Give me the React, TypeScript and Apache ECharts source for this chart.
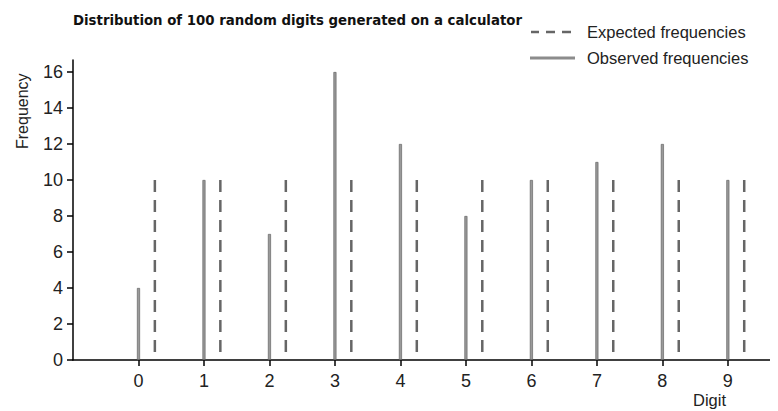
import React, { useEffect, useRef } from "react";
import * as echarts from "echarts";

const digits = [0, 1, 2, 3, 4, 5, 6, 7, 8, 9];
const observed = [4, 10, 7, 16, 12, 8, 10, 11, 12, 10];
const expected = [10, 10, 10, 10, 10, 10, 10, 10, 10, 10];
const yTicks = [0, 2, 4, 6, 8, 10, 12, 14, 16];
const xTicks = [0, 1, 2, 3, 4, 5, 6, 7, 8, 9];
const expectedOffset = 0.25;

const FONT = "'Liberation Sans', Arial, sans-serif";

export default function App() {
  const ref = useRef<HTMLDivElement>(null);
  useEffect(() => {
    if (!ref.current) return;
    const chart = echarts.init(ref.current, undefined, { renderer: "svg" });
    chart.setOption({
      animation: false,
      backgroundColor: "#fff",
      title: {
        text: "Distribution of 100 random digits generated on a calculator",
        left: 65,
        top: 4,
        padding: 0,
        textStyle: {
          fontFamily: "'DejaVu Sans Condensed', sans-serif",
          fontWeight: "bold",
          fontSize: 14.8,
          color: "#111",
        },
      },
      grid: { left: 65, right: 3, top: 52, bottom: 51, containLabel: false },
      xAxis: {
        type: "value",
        min: -1,
        max: 9.72,
        axisLine: { show: true, onZero: false, lineStyle: { color: "#000", width: 1.5 } },
        axisTick: { show: true, length: 6, customValues: xTicks, lineStyle: { color: "#000", width: 1.5 } },
        axisLabel: { customValues: xTicks, fontFamily: FONT, fontSize: 18, color: "#222", margin: 12 },
        splitLine: { show: false },
      },
      yAxis: {
        type: "value",
        min: 0,
        max: 16.67,
        axisLine: { show: true, onZero: false, lineStyle: { color: "#000", width: 1.5 } },
        axisTick: { show: true, length: 6, customValues: yTicks, lineStyle: { color: "#000", width: 1.5 } },
        axisLabel: { customValues: yTicks, fontFamily: FONT, fontSize: 18, color: "#222", margin: 10 },
        splitLine: { show: false },
      },
      series: [
        {
          name: "Observed frequencies",
          type: "bar",
          barWidth: 3,
          data: digits.map((d, i) => [d, observed[i]]),
          itemStyle: { color: "#9a9a9a", borderColor: "#555", borderWidth: 0.6 },
          z: 3,
        },
        {
          name: "Expected frequencies",
          type: "custom",
          data: digits.map((d, i) => [d + expectedOffset, expected[i]]),
          renderItem: (params: any, api: any) => {
            const top = api.coord([api.value(0), api.value(1)]);
            const bottom = api.coord([api.value(0), 0]);
            return {
              type: "line",
              shape: { x1: top[0], y1: top[1], x2: bottom[0], y2: bottom[1] },
              style: { stroke: "#666", lineWidth: 2.5, lineDash: [12, 8] },
            };
          },
          z: 2,
        },
      ],
      graphic: [
        {
          type: "text",
          x: 6,
          y: 141,
          rotation: Math.PI / 2,
          style: { text: "Frequency", font: `16px ${FONT}`, fill: "#222", textVerticalAlign: "top" },
        },
        {
          type: "text",
          x: 685,
          y: 383,
          style: { text: "Digit", font: `16.5px ${FONT}`, fill: "#222" },
        },
        {
          type: "line",
          shape: { x1: 523, y1: 24, x2: 531, y2: 24 },
          style: { stroke: "#666", lineWidth: 2.5 },
        },
        {
          type: "line",
          shape: { x1: 538, y1: 24, x2: 547, y2: 24 },
          style: { stroke: "#666", lineWidth: 2.5 },
        },
        {
          type: "line",
          shape: { x1: 554, y1: 24, x2: 563, y2: 24 },
          style: { stroke: "#666", lineWidth: 2.5 },
        },
        {
          type: "text",
          x: 579,
          y: 15,
          style: { text: "Expected frequencies", font: `16.5px ${FONT}`, fill: "#222" },
        },
        {
          type: "line",
          shape: { x1: 522, y1: 50, x2: 567, y2: 50 },
          style: { stroke: "#8c8c8c", lineWidth: 3 },
        },
        {
          type: "text",
          x: 579,
          y: 41,
          style: { text: "Observed frequencies", font: `16.5px ${FONT}`, fill: "#222" },
        },
      ],
    });
    return () => chart.dispose();
  }, []);
  return <div ref={ref} style={{ width: 770, height: 403 }} />;
}
